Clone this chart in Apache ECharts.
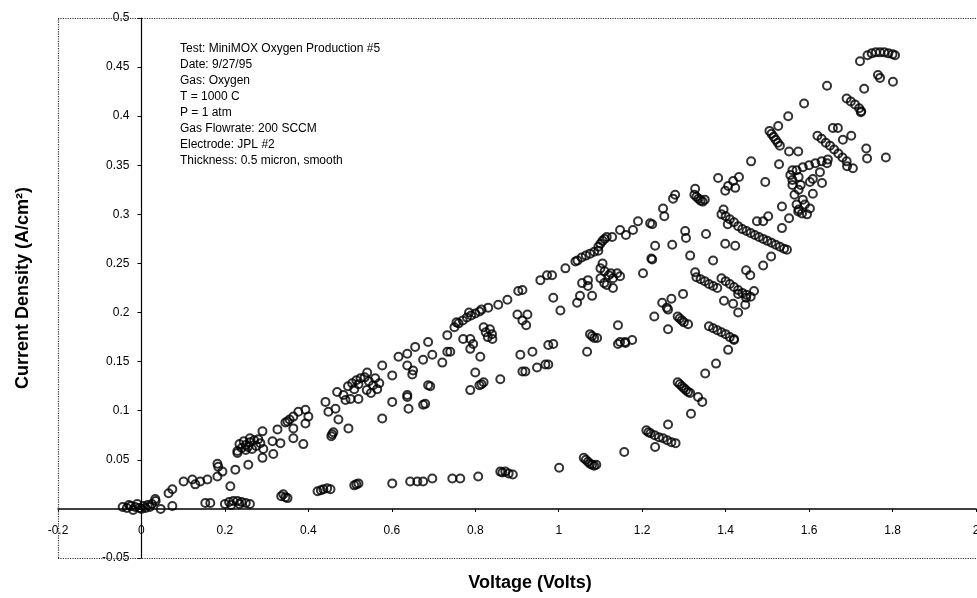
<!DOCTYPE html>
<html>
<head>
<meta charset="utf-8">
<script src="https://cdn.jsdelivr.net/npm/echarts@6/dist/echarts.min.js"></script>
<style>
  html, body { margin: 0; padding: 0; background: #fff; }
  #chart { width: 977px; height: 598px; }
</style>
</head>
<body>
<div id="chart"></div>
<script>
// tick labels
var xTicks = [-0.2, 0, 0.2, 0.4, 0.6, 0.8, 1, 1.2, 1.4, 1.6, 1.8, 2];
var yTicks = [-0.05, 0, 0.05, 0.1, 0.15, 0.2, 0.25, 0.3, 0.35, 0.4, 0.45, 0.5];

var noteLines = [
  'Test: MiniMOX Oxygen Production #5',
  'Date: 9/27/95',
  'Gas: Oxygen',
  'T = 1000 C',
  'P = 1 atm',
  'Gas Flowrate: 200 SCCM',
  'Electrode: JPL #2',
  'Thickness: 0.5 micron, smooth'
];

// [voltage, current density]
var originPts = [
  [-0.045, 0.002], [-0.035, 0.001], [-0.025, 0.003], [-0.015, 0.002], [-0.005, 0.001],
  [0.005, 0.003], [0.015, 0.004], [0.025, 0.005], [-0.03, 0.004], [-0.01, 0.005],
  [0.0, 0.0], [0.01, 0.001], [-0.02, -0.001], [0.02, 0.002],
  [0.034, 0.008], [0.046, 0.0], [0.074, 0.003], [0.065, 0.016], [0.074, 0.020], [0.033, 0.010]
];

var upperSweep = [
  [0.101, 0.028], [0.122, 0.030], [0.129, 0.025], [0.141, 0.028], [0.158, 0.030],
  [0.182, 0.033], [0.182, 0.046], [0.184, 0.043], [0.194, 0.038], [0.213, 0.023],
  [0.225, 0.040], [0.256, 0.045],
  [0.23, 0.059], [0.24, 0.062], [0.25, 0.065], [0.26, 0.068], [0.27, 0.070], [0.28, 0.071],
  [0.235, 0.066], [0.245, 0.069], [0.255, 0.063], [0.265, 0.061], [0.275, 0.064],
  [0.25, 0.060], [0.26, 0.072], [0.285, 0.067], [0.230, 0.057],
  [0.290, 0.079], [0.292, 0.061], [0.290, 0.052], [0.314, 0.069], [0.316, 0.056],
  [0.326, 0.081], [0.333, 0.067],
  [0.350, 0.089], [0.355, 0.091], [0.345, 0.088], [0.364, 0.094], [0.376, 0.099],
  [0.393, 0.101], [0.400, 0.094], [0.364, 0.082], [0.364, 0.072], [0.388, 0.066], [0.393, 0.087],
  [0.441, 0.109], [0.448, 0.099], [0.465, 0.102], [0.472, 0.091], [0.469, 0.119],
  [0.484, 0.116], [0.489, 0.111], [0.496, 0.082], [0.457, 0.076], [0.460, 0.078], [0.455, 0.074],
  [0.495, 0.125], [0.505, 0.128], [0.515, 0.131], [0.525, 0.133], [0.535, 0.134],
  [0.545, 0.130], [0.555, 0.126], [0.565, 0.122], [0.55, 0.118], [0.54, 0.121],
  [0.52, 0.127], [0.56, 0.133], [0.57, 0.128], [0.51, 0.122],
  [0.501, 0.112], [0.520, 0.112], [0.541, 0.139],
  [0.577, 0.146], [0.601, 0.136], [0.616, 0.155], [0.637, 0.158], [0.656, 0.165],
  [0.637, 0.146], [0.651, 0.141], [0.649, 0.137], [0.675, 0.152], [0.687, 0.170],
  [0.697, 0.157], [0.721, 0.149], [0.733, 0.160], [0.740, 0.160], [0.733, 0.177],
  [0.75, 0.185], [0.76, 0.189], [0.77, 0.192], [0.78, 0.195], [0.79, 0.197], [0.80, 0.199],
  [0.81, 0.201], [0.815, 0.203], [0.755, 0.190], [0.785, 0.200],
  [0.831, 0.205], [0.855, 0.208], [0.877, 0.213], [0.903, 0.222], [0.913, 0.223],
  [0.956, 0.233], [0.972, 0.238], [0.984, 0.238], [1.016, 0.245], [1.040, 0.252],
  [1.045, 0.253], [1.055, 0.256], [1.065, 0.258], [1.075, 0.260], [1.085, 0.262], [1.095, 0.263],
  [1.095, 0.267], [1.10, 0.270], [1.105, 0.273], [1.11, 0.275], [1.115, 0.277],
  [1.128, 0.277], [1.147, 0.284], [1.161, 0.279], [1.178, 0.284], [1.190, 0.293], [1.219, 0.291],
  [1.250, 0.306], [1.253, 0.298], [1.274, 0.316], [1.279, 0.320], [1.327, 0.326],
  [1.325, 0.320], [1.33, 0.318], [1.335, 0.316], [1.34, 0.314], [1.345, 0.313], [1.35, 0.315],
  [1.382, 0.337], [1.406, 0.329], [1.399, 0.324], [1.418, 0.334], [1.432, 0.338], [1.423, 0.327],
  [1.461, 0.354], [1.495, 0.333],
  [1.505, 0.385], [1.51, 0.382], [1.515, 0.379], [1.52, 0.376], [1.525, 0.373], [1.53, 0.370],
  [1.526, 0.390], [1.550, 0.400], [1.588, 0.413], [1.643, 0.431]
];

var topRight = [
  [1.69, 0.418], [1.70, 0.415], [1.71, 0.412], [1.72, 0.408], [1.725, 0.405], [1.724, 0.404],
  [1.765, 0.442], [1.770, 0.439], [1.801, 0.435], [1.732, 0.428], [1.722, 0.456],
  [1.74, 0.462], [1.75, 0.464], [1.76, 0.465], [1.77, 0.465], [1.78, 0.465], [1.79, 0.464],
  [1.80, 0.463], [1.806, 0.462],
  [1.62, 0.380], [1.63, 0.377], [1.64, 0.373], [1.65, 0.370], [1.66, 0.366], [1.67, 0.362],
  [1.68, 0.358], [1.69, 0.354], [1.657, 0.388], [1.669, 0.388], [1.681, 0.376], [1.701, 0.380],
  [1.737, 0.367], [1.739, 0.357], [1.784, 0.358], [1.691, 0.349], [1.705, 0.347],
  [1.555, 0.340], [1.57, 0.345], [1.585, 0.348], [1.60, 0.350], [1.615, 0.352], [1.63, 0.354],
  [1.645, 0.356], [1.56, 0.335], [1.575, 0.338], [1.643, 0.352], [1.626, 0.343], [1.609, 0.336],
  [1.631, 0.332], [1.602, 0.333], [1.552, 0.364], [1.574, 0.364], [1.528, 0.351],
  [1.56, 0.330], [1.565, 0.320], [1.57, 0.310], [1.575, 0.305], [1.58, 0.330], [1.585, 0.315],
  [1.59, 0.310], [1.595, 0.300], [1.56, 0.345], [1.575, 0.325], [1.609, 0.321], [1.602, 0.306],
  [1.583, 0.301], [1.574, 0.303]
];

var middleSweep = [
  [0.577, 0.092], [0.601, 0.109], [0.637, 0.114], [0.640, 0.102], [0.680, 0.107], [0.687, 0.126],
  [0.692, 0.125], [0.637, 0.116], [0.675, 0.106],
  [0.771, 0.173], [0.788, 0.173], [0.795, 0.168], [0.788, 0.163], [0.812, 0.155],
  [0.82, 0.185], [0.825, 0.180], [0.83, 0.175], [0.835, 0.183], [0.84, 0.178], [0.841, 0.173],
  [0.901, 0.198], [0.925, 0.198], [0.913, 0.192], [0.922, 0.187],
  [0.788, 0.121], [0.800, 0.139], [0.815, 0.127], [0.82, 0.129], [0.81, 0.126], [0.860, 0.132],
  [0.908, 0.157], [0.937, 0.160], [0.975, 0.167], [0.987, 0.168],
  [0.913, 0.140], [0.920, 0.140], [0.948, 0.144], [0.968, 0.147], [0.975, 0.147],
  [0.987, 0.215], [1.004, 0.202], [1.044, 0.210], [1.051, 0.217], [1.080, 0.217],
  [1.056, 0.230], [1.070, 0.233], [1.070, 0.227],
  [1.10, 0.245], [1.11, 0.242], [1.12, 0.238], [1.13, 0.235], [1.10, 0.235], [1.115, 0.228],
  [1.125, 0.240], [1.105, 0.250], [1.109, 0.230], [1.130, 0.225], [1.147, 0.237], [1.14, 0.240],
  [1.075, 0.178], [1.08, 0.176], [1.085, 0.174], [1.092, 0.174], [1.068, 0.160],
  [1.142, 0.187], [1.142, 0.168], [1.159, 0.170], [1.176, 0.172], [1.147, 0.170], [1.16, 0.169],
  [1.202, 0.240], [1.224, 0.254], [1.231, 0.268], [1.303, 0.283], [1.327, 0.241],
  [1.222, 0.255], [1.272, 0.269], [1.305, 0.276], [1.353, 0.280], [1.315, 0.258], [1.370, 0.253],
  [1.224, 0.290],
  [1.33, 0.236], [1.34, 0.234], [1.35, 0.232], [1.36, 0.229], [1.37, 0.227], [1.38, 0.225],
  [1.39, 0.235], [1.40, 0.232], [1.41, 0.229], [1.42, 0.226], [1.43, 0.223], [1.44, 0.220],
  [1.45, 0.218], [1.46, 0.216], [1.396, 0.212], [1.418, 0.209], [1.430, 0.200], [1.447, 0.208],
  [1.430, 0.219], [1.449, 0.215], [1.468, 0.222],
  [1.39, 0.300], [1.40, 0.298], [1.41, 0.295], [1.42, 0.292], [1.43, 0.288], [1.44, 0.285],
  [1.395, 0.305], [1.405, 0.290], [1.475, 0.293], [1.49, 0.293], [1.502, 0.298],
  [1.399, 0.270], [1.423, 0.268],
  [1.45, 0.283], [1.46, 0.281], [1.47, 0.279], [1.48, 0.277], [1.49, 0.275], [1.50, 0.273],
  [1.51, 0.271], [1.52, 0.269], [1.53, 0.267], [1.54, 0.265],
  [1.535, 0.308], [1.552, 0.296], [1.535, 0.286],
  [1.449, 0.243], [1.459, 0.238], [1.490, 0.248], [1.509, 0.257], [1.547, 0.264],
  [1.285, 0.196], [1.29, 0.194], [1.295, 0.192], [1.30, 0.190], [1.31, 0.188],
  [1.229, 0.196], [1.262, 0.183], [1.248, 0.210], [1.270, 0.214], [1.262, 0.203], [1.298, 0.219],
  [1.259, 0.205]
];

var lowerSweep = [
  [0.153, 0.006], [0.165, 0.006], [0.20, 0.005], [0.21, 0.007], [0.22, 0.008], [0.23, 0.008],
  [0.24, 0.007], [0.25, 0.006], [0.26, 0.005], [0.215, 0.004], [0.235, 0.005],
  [0.335, 0.013], [0.34, 0.015], [0.345, 0.012], [0.35, 0.011],
  [0.422, 0.018], [0.436, 0.020], [0.453, 0.020], [0.445, 0.021], [0.43, 0.019],
  [0.515, 0.025], [0.52, 0.026], [0.51, 0.024],
  [0.601, 0.026], [0.644, 0.028], [0.661, 0.028], [0.675, 0.028], [0.697, 0.031],
  [0.745, 0.031], [0.764, 0.031], [0.807, 0.033], [0.860, 0.038],
  [0.865, 0.037], [0.872, 0.038], [0.88, 0.036], [0.89, 0.035], [1.001, 0.042],
  [1.06, 0.052], [1.065, 0.050], [1.07, 0.048], [1.075, 0.046], [1.08, 0.045], [1.085, 0.044],
  [1.09, 0.045], [1.157, 0.058],
  [1.21, 0.080], [1.215, 0.078], [1.22, 0.077], [1.23, 0.075], [1.24, 0.073], [1.25, 0.072],
  [1.26, 0.070], [1.27, 0.068], [1.28, 0.067], [1.231, 0.063], [1.262, 0.086],
  [1.317, 0.097], [1.334, 0.114], [1.344, 0.109],
  [1.285, 0.129], [1.29, 0.127], [1.295, 0.125], [1.30, 0.123], [1.305, 0.121], [1.31, 0.119],
  [1.315, 0.118],
  [1.351, 0.138], [1.377, 0.148], [1.406, 0.162],
  [1.36, 0.186], [1.37, 0.184], [1.38, 0.182], [1.39, 0.180], [1.40, 0.178], [1.41, 0.175],
  [1.42, 0.173], [1.420, 0.172]
];

var allPts = [].concat(originPts, upperSweep, topRight, middleSweep, lowerSweep);

function fmt(v) {
  return String(Math.round(v * 100) / 100);
}

var chart = echarts.init(document.getElementById('chart'), null, { renderer: 'canvas' });

var font = '"Liberation Sans", Arial, sans-serif';

// plot box, and where the zero lines fall inside it
var gridBox = { left: 58, right: 1, top: 18, bottom: 40 };
var plotW = 977 - gridBox.left - gridBox.right;
var plotH = 598 - gridBox.top - gridBox.bottom;
var xMin = xTicks[0], xMax = xTicks[xTicks.length - 1];
var yMin = yTicks[0], yMax = yTicks[yTicks.length - 1];
var yAxisShift = plotW * (0 - xMin) / (xMax - xMin);
var xAxisShift = plotH * (0 - yMin) / (yMax - yMin);

var option = {
  animation: false,
  backgroundColor: '#fff',
  textStyle: { fontFamily: font },
  title: {
    text: noteLines.join('\n'),
    left: 175,
    top: 36,
    textStyle: { fontSize: 12, fontWeight: 'normal', color: '#000', lineHeight: 16, fontFamily: font }
  },
  grid: {
    left: gridBox.left, right: gridBox.right, top: gridBox.top, bottom: gridBox.bottom,
    containLabel: false, outerBoundsMode: 'none'
  },
  xAxis: {
    type: 'value',
    position: 'bottom',
    offset: -xAxisShift,
    min: xMin,
    max: xMax,
    interval: 0.2,
    name: 'Voltage (Volts)',
    nameLocation: 'middle',
    nameGap: 65,
    nameTextStyle: { fontSize: 18, fontWeight: 'bold', color: '#000', fontFamily: font, padding: [0, 0, 0, 26] },
    axisLine: { onZero: false, lineStyle: { color: '#000', width: 1.5 } },
    axisTick: { show: true, length: 3, lineStyle: { color: '#000' } },
    axisLabel: { color: '#000', fontSize: 12, margin: 16, formatter: fmt },
    splitLine: { show: false }
  },
  yAxis: {
    type: 'value',
    position: 'left',
    offset: -yAxisShift,
    min: yMin,
    max: yMax,
    interval: 0.05,
    name: 'Current Density (A/cm²)',
    nameLocation: 'middle',
    nameGap: 109,
    nameTextStyle: { fontSize: 18, fontWeight: 'bold', color: '#000', fontFamily: font },
    axisLine: { onZero: false, lineStyle: { color: '#000', width: 1.2 } },
    axisTick: { show: true, length: 4, lineStyle: { color: '#000' } },
    axisLabel: {
      color: '#000', fontSize: 12, margin: 12,
      formatter: function (v) { return Math.abs(v) < 1e-9 ? '' : fmt(v); }
    },
    splitLine: { show: false }
  },
  series: [
    {
      name: 'MiniMOX #5',
      type: 'scatter',
      data: allPts,
      symbol: 'circle',
      symbolSize: 8,
      itemStyle: { color: 'rgba(0,0,0,0)', borderColor: '#000', borderWidth: 2 },
      emphasis: { disabled: true },
      markLine: {
        silent: true,
        symbol: ['none', 'none'],
        label: { show: false },
        lineStyle: { color: '#333', type: 'dotted', width: 1.2 },
        data: [
          { yAxis: yMax },
          { yAxis: yMin },
          { xAxis: xMin }
        ]
      }
    }
  ]
};

chart.setOption(option);
</script>
</body>
</html>
